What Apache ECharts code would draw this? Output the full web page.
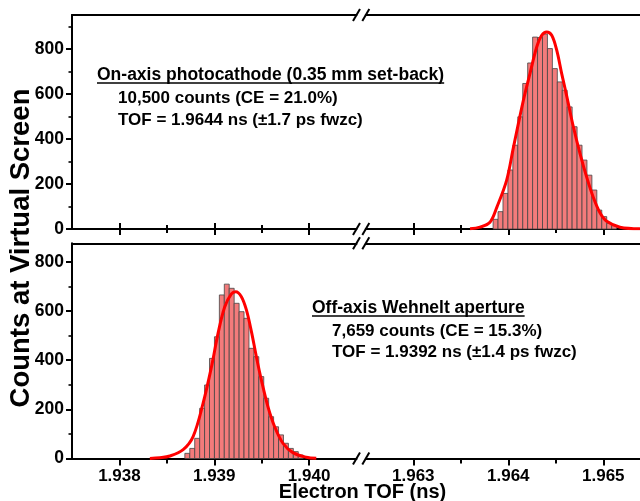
<!DOCTYPE html>
<html><head><meta charset="utf-8">
<script src="https://cdn.jsdelivr.net/npm/echarts@6/dist/echarts.min.js"></script>
<style>html,body{margin:0;padding:0;background:#fff}#c{width:640px;height:501px}</style>
</head><body><div id="c"></div>
<script>
// ---------------- data ----------------
const binWidth = 0.000052;
const topBinStart = 1.96384;
const topCounts = [43, 77, 158, 262, 372, 498, 646, 737, 852, 850, 865, 801, 712, 653, 616, 542, 454, 372, 306, 239, 173, 84, 55, 25, 15];
const botBinStart = 1.93869;
const botCounts = [21, 41, 82, 204, 299, 407, 495, 665, 709, 692, 631, 597, 570, 448, 414, 333, 245, 170, 129, 96, 62, 41, 28, 14];

const topFitX = [1.963597, 1.963702, 1.963807, 1.963878, 1.963983, 1.964053, 1.964158, 1.964228, 1.964299, 1.964352, 1.964404, 1.964457, 1.964509, 1.964562, 1.964615, 1.964684, 1.964755, 1.964825, 1.964895, 1.964965, 1.965036, 1.965176, 1.965386];
const topFitY = [1, 8, 30, 95, 217, 360, 570, 690, 808, 860, 875, 860, 795, 690, 590, 455, 335, 230, 140, 72, 34, 8, 1];
const botFitX = [1.938321, 1.938426, 1.938532, 1.938672, 1.938777, 1.938882, 1.938971, 1.939040, 1.939111, 1.939181, 1.939226, 1.939286, 1.939339, 1.939392, 1.939444, 1.939497, 1.939566, 1.939637, 1.939724, 1.939829, 1.939971, 1.940076];
const botFitY = [0.5, 3, 10, 36, 89, 224, 373, 509, 617, 669, 678, 658, 604, 516, 414, 319, 211, 129, 62, 24, 5, 1];

const leftRange = [1.9375, 1.9405];
const rightRange = [1.9625, 1.9655];
const leftMajorTicks = [1.938, 1.939, 1.940];
const leftMinorTicks = [1.9385, 1.9395];
const rightMajorTicks = [1.963, 1.964, 1.965];
const rightMinorTicks = [1.9635, 1.9645];
const topYMax = 950;
const botYMax = 875;
const yMajorTicks = [0, 200, 400, 600, 800];
const topYMinorTicks = [100, 300, 500, 700, 900];
const botYMinorTicks = [100, 300, 500, 700];

const topNote = ['On-axis photocathode (0.35 mm set-back)', '10,500 counts (CE = 21.0%)', 'TOF = 1.9644 ns (\u00b11.7 ps fwzc)'];
const botNote = ['Off-axis Wehnelt aperture', '7,659 counts (CE = 15.3%)', 'TOF = 1.9392 ns (\u00b11.4 ps fwzc)'];
const xTitle = 'Electron TOF (ns)';
const yTitle = 'Counts at Virtual Screen';

// ---------------- layout ----------------
const FONT = "'Liberation Sans', Arial, sans-serif";
const L = 72, gapL = 356.5, gapR = 365.8, R = 650.8;
const T1 = 15, B1 = 229, T2 = 243.3, B2 = 458.5;
const BLACK = '#000';

const gridDefs = [
  {left: L, top: T1, width: gapL - L, height: B1 - T1, range: leftRange, major: leftMajorTicks, minor: leftMinorTicks, isTop: true, ymax: topYMax, yMinor: topYMinorTicks, showY: true},
  {left: gapR, top: T1, width: R - gapR, height: B1 - T1, range: rightRange, major: rightMajorTicks, minor: rightMinorTicks, isTop: true, ymax: topYMax, yMinor: topYMinorTicks, showY: false},
  {left: L, top: T2, width: gapL - L, height: B2 - T2, range: leftRange, major: leftMajorTicks, minor: leftMinorTicks, isTop: false, ymax: botYMax, yMinor: botYMinorTicks, showY: true},
  {left: gapR, top: T2, width: R - gapR, height: B2 - T2, range: rightRange, major: rightMajorTicks, minor: rightMinorTicks, isTop: false, ymax: botYMax, yMinor: botYMinorTicks, showY: false}
];

const grids = [], xAxes = [], yAxes = [], mainX = [], mainY = [];
gridDefs.forEach((g, gi) => {
  grids.push({left: g.left, top: g.top, width: g.width, height: g.height, containLabel: false, outerBoundsMode: 'none'});
  const base = () => ({type: 'value', gridIndex: gi, min: g.range[0], max: g.range[1], splitLine: {show: false},
    axisLine: {show: false, onZero: false}, axisTick: {show: false}, axisLabel: {show: false}});
  const tickStyle = {color: BLACK, width: 2};
  mainX.push(xAxes.length);
  xAxes.push(Object.assign(base(), {position: 'bottom',
    axisLine: {show: true, onZero: false, lineStyle: {color: BLACK, width: 2}},
    axisTick: {show: true, inside: false, length: g.isTop ? 6 : 7, customValues: g.major, lineStyle: tickStyle},
    axisLabel: {show: !g.isTop, customValues: g.major, formatter: v => v.toFixed(3), margin: 9, color: BLACK,
      fontSize: 17, fontWeight: 'bold', fontFamily: FONT}}));
  xAxes.push(Object.assign(base(), {position: 'bottom',
    axisTick: {show: true, inside: false, length: g.isTop ? 4 : 5, customValues: g.minor, lineStyle: tickStyle}}));
  if (g.isTop) {
    xAxes.push(Object.assign(base(), {position: 'bottom',
      axisTick: {show: true, inside: true, length: 6, customValues: g.major, lineStyle: tickStyle}}));
    xAxes.push(Object.assign(base(), {position: 'bottom',
      axisTick: {show: true, inside: true, length: 4, customValues: g.minor, lineStyle: tickStyle}}));
  }
  xAxes.push(Object.assign(base(), {position: 'top',
    axisLine: {show: true, onZero: false, lineStyle: {color: BLACK, width: 2}}}));

  mainY.push(yAxes.length);
  yAxes.push({type: 'value', gridIndex: gi, min: 0, max: g.ymax, position: 'left', show: g.showY,
    splitLine: {show: false},
    axisLine: {show: true, onZero: false, lineStyle: {color: BLACK, width: 2}},
    axisTick: {show: true, inside: false, length: 6, customValues: yMajorTicks, lineStyle: {color: BLACK, width: 2}},
    axisLabel: {customValues: yMajorTicks, margin: 8, color: BLACK, fontSize: 17.5, fontWeight: 'bold', fontFamily: FONT}});
  yAxes.push({type: 'value', gridIndex: gi, min: 0, max: g.ymax, position: 'left', show: g.showY,
    splitLine: {show: false}, axisLine: {show: false, onZero: false}, axisLabel: {show: false},
    axisTick: {show: true, inside: false, length: 3.5, customValues: g.yMinor, lineStyle: {color: BLACK, width: 1.6}}});
});

function histData(start, counts) {
  return counts.map((c, i) => [start + i * binWidth, start + (i + 1) * binWidth, c]);
}
function histItem(params, api) {
  const p0 = api.coord([api.value(0), api.value(2)]);
  const p1 = api.coord([api.value(1), 0]);
  return {type: 'rect', shape: {x: p0[0], y: p0[1], width: p1[0] - p0[0], height: p1[1] - p0[1]},
    style: {fill: '#F37B7B', stroke: '#454545', lineWidth: 0.8}};
}
function pairs(xs, ys) { return xs.map((x, i) => [x, ys[i]]); }

const series = [
  {type: 'custom', xAxisIndex: mainX[1], yAxisIndex: mainY[1], renderItem: histItem, encode: {x: [0, 1], y: 2}, data: histData(topBinStart, topCounts), z: 2},
  {type: 'line', xAxisIndex: mainX[1], yAxisIndex: mainY[1], data: pairs(topFitX, topFitY), smooth: 0.35, showSymbol: false, lineStyle: {color: '#FF0000', width: 3}, z: 3},
  {type: 'custom', xAxisIndex: mainX[2], yAxisIndex: mainY[2], renderItem: histItem, encode: {x: [0, 1], y: 2}, data: histData(botBinStart, botCounts), z: 2},
  {type: 'line', xAxisIndex: mainX[2], yAxisIndex: mainY[2], data: pairs(botFitX, botFitY), smooth: 0.35, showSymbol: false, lineStyle: {color: '#FF0000', width: 3}, z: 3}
];

// ---------------- decorations ----------------
const measureCtx = document.createElement('canvas').getContext('2d');
function textW(t, size) { measureCtx.font = 'bold ' + size + 'px ' + FONT; return measureCtx.measureText(t).width; }
const graphics = [];
function txt(t, x, y, size, align) {
  return {type: 'text', x: x, y: y, style: {text: t, font: 'bold ' + size + 'px ' + FONT, fill: BLACK,
    textAlign: align || 'left', textVerticalAlign: 'middle', align: align || 'left', verticalAlign: 'middle'}};
}
function note(lines, x1, x2, ys, uy) {
  graphics.push(txt(lines[0], x1, ys[0], 17.5));
  graphics.push({type: 'line', shape: {x1: x1, y1: uy, x2: x1 + textW(lines[0], 17.5), y2: uy}, style: {stroke: BLACK, lineWidth: 1.5}});
  for (let i = 1; i < lines.length; i++) graphics.push(txt(lines[i], x2, ys[i], 17));
}
note(topNote, 97, 118, [75.5, 98, 120.5], 83);
note(botNote, 312, 332, [308, 331, 352.5], 316);

// axis break marks
[T1, B1, T2, B2].forEach(y => {
  [gapL, gapR].forEach(x => {
    graphics.push({type: 'line', shape: {x1: x - 3.5, y1: y + 6, x2: x + 3.5, y2: y - 6}, style: {stroke: BLACK, lineWidth: 2}});
  });
});

graphics.push(txt(xTitle, 362.5, 492, 20, 'center'));
const yt = txt(yTitle, 21, 248, 27.5, 'center');
yt.rotation = Math.PI / 2;
graphics.push(yt);

const chart = echarts.init(document.getElementById('c'), null, {renderer: 'canvas'});
chart.setOption({
  animation: false,
  backgroundColor: '#fff',
  grid: grids,
  xAxis: xAxes,
  yAxis: yAxes,
  series: series,
  graphic: graphics
});
</script>
</body></html>
